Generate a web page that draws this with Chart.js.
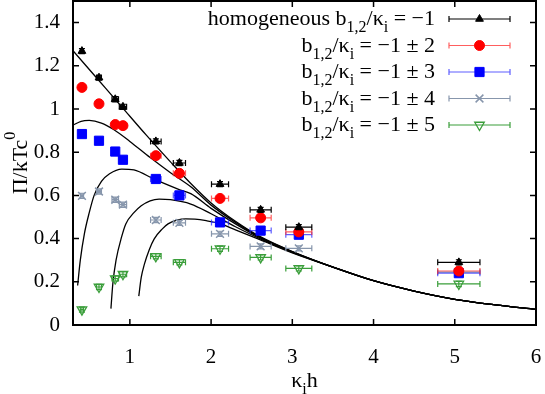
<!DOCTYPE html>
<html>
<head>
<meta charset="utf-8">
<script src="https://cdn.jsdelivr.net/npm/chart.js@4.4.1/dist/chart.umd.min.js"></script>
<style>
  html, body { margin: 0; padding: 0; background: #fff; }
</style>
</head>
<body>
<canvas id="pressureChart" width="545" height="394"></canvas>
<script>
// measured points, same κ_i h for every series
const khValues = [0.41, 0.62, 0.82, 0.915, 1.32, 1.61, 2.11, 2.61, 3.08, 5.05];
const khErrors = [0.02, 0.03, 0.04, 0.045, 0.065, 0.075, 0.105, 0.13, 0.16, 0.26];
const piErrors = [0.012, 0.012, 0.012, 0.012, 0.012, 0.012, 0.012, 0.012, 0.012, 0.012];

const homogeneousPi = [1.268, 1.145, 1.045, 1.01, 0.85, 0.75, 0.652, 0.533, 0.453, 0.29];
const spread2Pi = [1.100, 1.024, 0.928, 0.923, 0.784, 0.702, 0.586, 0.496, 0.431, 0.25];
const spread3Pi = [0.884, 0.853, 0.803, 0.765, 0.676, 0.600, 0.475, 0.437, 0.418, 0.24];
const spread4Pi = [0.598, 0.618, 0.580, 0.557, 0.486, 0.473, 0.422, 0.364, 0.355, 0.245];
const spread5Pi = [0.071, 0.176, 0.215, 0.235, 0.318, 0.290, 0.353, 0.313, 0.262, 0.19];

const seriesLabels = [
  "homogeneous b_{1,2}/κ_{i} = −1",
  "b_{1,2}/κ_{i} = −1 ± 2",
  "b_{1,2}/κ_{i} = −1 ± 3",
  "b_{1,2}/κ_{i} = −1 ± 4",
  "b_{1,2}/κ_{i} = −1 ± 5"
];

// theory curves, they share the same tail
const tailX = [3.5, 4.0, 4.5, 5.0, 5.5, 6.0];
const tailY = [0.268, 0.205, 0.157, 0.119, 0.093, 0.072];

const curve1X = [0.3, 0.6, 0.9, 1.2, 1.5, 1.75, 2.0, 2.3, 2.6, 3.0];
const curve1Y = [1.27, 1.14, 1.01, 0.88, 0.755, 0.655, 0.565, 0.48, 0.41, 0.34];
const curve2X = [0.3, 0.4, 0.5, 0.65, 0.8, 1.0, 1.25, 1.5, 1.75, 2.0, 2.3, 2.6, 3.0];
const curve2Y = [0.925, 0.943, 0.947, 0.935, 0.905, 0.85, 0.775, 0.705, 0.64, 0.555, 0.475, 0.407, 0.34];
const curve3X = [0.357, 0.39, 0.44, 0.5, 0.56, 0.65, 0.75, 0.9, 1.05, 1.3, 1.6, 1.75, 2.0, 2.3, 2.6, 3.0];
const curve3Y = [0.183, 0.30, 0.422, 0.52, 0.60, 0.665, 0.70, 0.722, 0.718, 0.675, 0.628, 0.608, 0.54, 0.468, 0.404, 0.338];
const curve4X = [0.767, 0.79, 0.83, 0.9, 0.95, 1.05, 1.14, 1.25, 1.36, 1.5, 1.75, 2.0, 2.3, 2.6, 3.0];
const curve4Y = [0.076, 0.19, 0.30, 0.41, 0.468, 0.52, 0.552, 0.575, 0.583, 0.58, 0.56, 0.515, 0.455, 0.40, 0.336];
const curve5X = [1.11, 1.14, 1.18, 1.24, 1.3, 1.4, 1.47, 1.58, 1.69, 1.8, 1.94, 2.1, 2.3, 2.6, 3.0];
const curve5Y = [0.134, 0.22, 0.283, 0.35, 0.399, 0.445, 0.468, 0.485, 0.491, 0.49, 0.483, 0.47, 0.44, 0.395, 0.334];

const yTitle = "Π/kTc^{0}";
const xTitle = "κ_{i}h";

const FONT = "'Liberation Serif', 'Times New Roman', serif";
const TICK_SIZE = 21;
const TEXT_SIZE = 22;

const toPoints = (xs, ys) => xs.map((x, i) => ({ x, y: ys[i] }));

function curveDataset(xs, ys) {
  return {
    data: toPoints(xs.concat(tailX), ys.concat(tailY)),
    showLine: true,
    borderColor: "#000",
    borderWidth: 1.3,
    pointRadius: 0,
    cubicInterpolationMode: "monotone",
    isCurve: true
  };
}

function pointDataset(label, values, color, barColor, style) {
  return {
    label,
    data: toPoints(khValues, values),
    xErr: khErrors,
    yErr: piErrors,
    barColor,
    showLine: false,
    borderColor: color,
    backgroundColor: style.fill ? color : "rgba(0,0,0,0)",
    pointStyle: style.shape,
    pointRadius: style.radius,
    pointRotation: style.rotation || 0,
    borderWidth: style.width || 1
  };
}

// "_{..}" subscript, "^{..}" superscript
function parseRich(str) {
  const segs = [];
  const re = /([_^])\{([^}]*)\}/g;
  let last = 0, m;
  while ((m = re.exec(str))) {
    if (m.index > last) segs.push({ t: str.slice(last, m.index), k: 0 });
    segs.push({ t: m[2], k: m[1] === "_" ? 1 : -1 });
    last = re.lastIndex;
  }
  if (last < str.length) segs.push({ t: str.slice(last), k: 0 });
  return segs;
}

function drawRich(ctx, str, x, y, align) {
  const segs = parseRich(str);
  const small = Math.round(TEXT_SIZE * 0.73);
  let total = 0;
  segs.forEach(s => {
    ctx.font = `${s.k ? small : TEXT_SIZE}px ${FONT}`;
    s.w = ctx.measureText(s.t).width;
    total += s.w;
  });
  let cx = align === "right" ? x - total : align === "center" ? x - total / 2 : x;
  ctx.textBaseline = "alphabetic";
  ctx.textAlign = "left";
  segs.forEach(s => {
    ctx.font = `${s.k ? small : TEXT_SIZE}px ${FONT}`;
    const dy = s.k === 1 ? 7 : s.k === -1 ? -12 : 0;
    ctx.fillText(s.t, cx, y + dy);
    cx += s.w;
  });
}

// x and y error bars under each marker series
const errorBars = {
  id: "errorBars",
  beforeDatasetDraw(chart, args) {
    const ds = chart.data.datasets[args.index];
    if (!ds.xErr) return;
    const { ctx, scales: { x, y } } = chart;
    const cap = 3;
    ctx.save();
    ctx.strokeStyle = ds.barColor;
    ctx.lineWidth = 1.2;
    ds.data.forEach((p, i) => {
      const px = x.getPixelForValue(p.x), py = y.getPixelForValue(p.y);
      const x0 = x.getPixelForValue(p.x - ds.xErr[i]), x1 = x.getPixelForValue(p.x + ds.xErr[i]);
      const y0 = y.getPixelForValue(p.y - ds.yErr[i]), y1 = y.getPixelForValue(p.y + ds.yErr[i]);
      ctx.beginPath();
      ctx.moveTo(x0, py); ctx.lineTo(x1, py);
      ctx.moveTo(x0, py - cap); ctx.lineTo(x0, py + cap);
      ctx.moveTo(x1, py - cap); ctx.lineTo(x1, py + cap);
      ctx.moveTo(px, y0); ctx.lineTo(px, y1);
      ctx.moveTo(px - cap, y0); ctx.lineTo(px + cap, y0);
      ctx.moveTo(px - cap, y1); ctx.lineTo(px + cap, y1);
      ctx.stroke();
    });
    ctx.restore();
  }
};

// frame, inward ticks on all sides, axis titles and the legend
const frameAndLegend = {
  id: "frameAndLegend",
  afterDraw(chart) {
    const { ctx, chartArea: a, scales: { x, y } } = chart;
    ctx.save();
    ctx.strokeStyle = "#000";
    ctx.lineWidth = 1.5;
    const t = 6;
    ctx.beginPath();
    x.ticks.forEach(tk => {
      const px = x.getPixelForValue(tk.value);
      ctx.moveTo(px, a.bottom); ctx.lineTo(px, a.bottom - t);
      ctx.moveTo(px, a.top); ctx.lineTo(px, a.top + t);
    });
    y.ticks.forEach(tk => {
      const py = y.getPixelForValue(tk.value);
      ctx.moveTo(a.left, py); ctx.lineTo(a.left + t, py);
      ctx.moveTo(a.right, py); ctx.lineTo(a.right - t, py);
    });
    ctx.stroke();
    ctx.lineWidth = 2;
    ctx.strokeRect(a.left, a.top, a.right - a.left, a.bottom - a.top);

    ctx.fillStyle = "#000";
    drawRich(ctx, xTitle, (a.left + a.right) / 2, 387, "center");
    ctx.save();
    ctx.translate(27, (a.top + a.bottom) / 2);
    ctx.rotate(-Math.PI / 2);
    drawRich(ctx, yTitle, 0, 0, "center");
    ctx.restore();

    // legend
    const textRight = 435, lineL = 449, lineR = 510, rowTop = 19, rowGap = 26.5;
    const pointSets = chart.data.datasets.filter(d => !d.isCurve);
    pointSets.forEach((ds, i) => {
      const ry = rowTop + i * rowGap;
      ctx.fillStyle = "#000";
      drawRich(ctx, ds.label, textRight, ry + 6, "right");
      ctx.strokeStyle = ds.barColor;
      ctx.lineWidth = 1.2;
      ctx.beginPath();
      ctx.moveTo(lineL, ry); ctx.lineTo(lineR, ry);
      ctx.moveTo(lineL, ry - 3); ctx.lineTo(lineL, ry + 3);
      ctx.moveTo(lineR, ry - 3); ctx.lineTo(lineR, ry + 3);
      ctx.stroke();
      ctx.strokeStyle = ds.borderColor;
      ctx.fillStyle = ds.backgroundColor;
      ctx.lineWidth = ds.borderWidth;
      Chart.helpers.drawPoint(ctx, {
        pointStyle: ds.pointStyle,
        radius: ds.pointRadius,
        rotation: ds.pointRotation,
        borderWidth: ds.borderWidth
      }, (lineL + lineR) / 2, ry);
    });
    ctx.restore();
  }
};

new Chart(document.getElementById("pressureChart"), {
  type: "scatter",
  data: {
    datasets: [
      pointDataset(seriesLabels[0], homogeneousPi, "#000", "#000", { shape: "triangle", radius: 4.5, fill: true }),
      pointDataset(seriesLabels[1], spread2Pi, "#ff0000", "rgba(255,40,40,0.75)", { shape: "circle", radius: 5, fill: true }),
      pointDataset(seriesLabels[2], spread3Pi, "#0000ff", "rgba(40,40,255,0.75)", { shape: "rect", radius: 6.5, fill: true }),
      pointDataset(seriesLabels[3], spread4Pi, "#8796ac", "#8796ac", { shape: "crossRot", radius: 5.5, width: 1.5 }),
      pointDataset(seriesLabels[4], spread5Pi, "#3a9e3a", "#3a9e3a", { shape: "triangle", radius: 5.5, rotation: 180, width: 1.3 }),
      curveDataset(curve1X, curve1Y),
      curveDataset(curve2X, curve2Y),
      curveDataset(curve3X, curve3Y),
      curveDataset(curve4X, curve4Y),
      curveDataset(curve5X, curve5Y)
    ]
  },
  options: {
    responsive: false,
    animation: false,
    layout: { autoPadding: false, padding: { left: 0, right: 9, top: 1, bottom: 0 } },
    plugins: { legend: { display: false }, tooltip: { enabled: false } },
    scales: {
      x: {
        type: "linear",
        min: 0.3,
        max: 6,
        grid: { display: false },
        border: { display: false },
        ticks: {
          stepSize: 1,
          includeBounds: false,
          padding: 12,
          color: "#000",
          font: { family: FONT, size: TICK_SIZE }
        },
        afterFit: s => {
          s.height = 69;
          s.paddingLeft = 0;
          s.paddingRight = 0;
        }
      },
      y: {
        min: 0,
        max: 1.5,
        grid: { display: false },
        border: { display: false },
        ticks: {
          stepSize: 0.2,
          includeBounds: false,
          padding: 5,
          color: "#000",
          font: { family: FONT, size: TICK_SIZE },
          callback: v => String(+v.toFixed(1))
        },
        afterFit: s => {
          s.width = 73;
          s.paddingTop = 0;
          s.paddingBottom = 0;
        }
      }
    }
  },
  plugins: [errorBars, frameAndLegend]
});
</script>
</body>
</html>
